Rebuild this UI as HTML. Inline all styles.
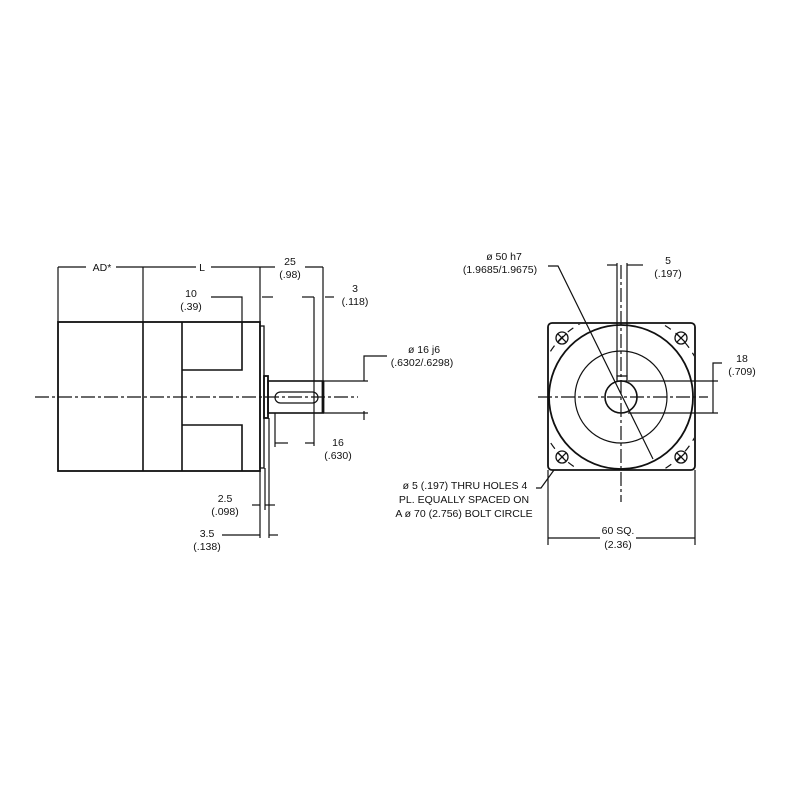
<!DOCTYPE html>
<html><head><meta charset="utf-8"><style>
html,body{margin:0;padding:0;background:#fff;}
svg{display:block;}
text{font-family:"Liberation Sans Narrow","Liberation Sans",sans-serif;font-size:10.5px;fill:#111;text-anchor:middle;}
</style></head><body>
<svg width="800" height="800" viewBox="0 0 800 800" xmlns="http://www.w3.org/2000/svg">
<defs><clipPath id="sq"><rect x="549" y="324" width="145" height="145" rx="4"/></clipPath></defs>
<g stroke="#111" fill="none" stroke-width="1.2">
<rect x="58" y="322" width="202" height="149" stroke-width="1.8"/>
<line x1="143" y1="322" x2="143" y2="471" stroke-width="1.6"/>
<line x1="182" y1="322" x2="182" y2="471" stroke-width="1.6"/>
<polyline points="182,370 242,370 242,322" stroke-width="1.6"/>
<polyline points="182,425 242,425 242,471" stroke-width="1.6"/>
<rect x="260" y="326" width="4" height="142" stroke-width="1.3"/>
<rect x="264" y="376" width="4" height="42" stroke-width="1.8"/>
<rect x="268" y="381" width="55" height="32" stroke-width="1.6"/>
<line x1="323" y1="381" x2="323" y2="413" stroke-width="2.8"/>
<rect x="275" y="392" width="43" height="11" rx="5.5"/>
<line x1="35" y1="397" x2="358" y2="397" stroke-dasharray="14,3,3,3"/>
<line x1="58" y1="267" x2="58" y2="322"/>
<line x1="143" y1="267" x2="143" y2="322"/>
<line x1="260" y1="267" x2="260" y2="322"/>
<line x1="323" y1="267" x2="323" y2="381"/>
<line x1="58" y1="267" x2="86" y2="267"/>
<line x1="116" y1="267" x2="196" y2="267"/>
<line x1="211" y1="267" x2="275" y2="267"/>
<line x1="305" y1="267" x2="323" y2="267"/>
<polyline points="211,297 242,297 242,322"/>
<line x1="262" y1="297" x2="273" y2="297"/>
<line x1="302" y1="297" x2="314" y2="297"/>
<line x1="325" y1="297" x2="334" y2="297"/>
<line x1="314" y1="297" x2="314" y2="446"/>
<line x1="323" y1="381" x2="368" y2="381"/>
<line x1="323" y1="413" x2="368" y2="413"/>
<polyline points="364,381 364,356 387,356"/>
<line x1="364" y1="411" x2="364" y2="420"/>
<line x1="275" y1="413" x2="275" y2="447"/>
<line x1="275" y1="443" x2="288" y2="443"/>
<line x1="305" y1="443" x2="314" y2="443"/>
<line x1="260" y1="471" x2="260" y2="538"/>
<line x1="265" y1="468" x2="265" y2="510"/>
<line x1="269" y1="418" x2="269" y2="538"/>
<line x1="252" y1="505" x2="260" y2="505"/>
<line x1="265" y1="505" x2="275" y2="505"/>
<line x1="222" y1="535" x2="260" y2="535"/>
<line x1="269" y1="535" x2="278" y2="535"/>
<rect x="548" y="323" width="147" height="147" rx="4" stroke-width="1.8"/>
<circle cx="621" cy="397" r="72" stroke-width="1.8"/>
<circle cx="621" cy="397" r="46"/>
<circle cx="621" cy="397" r="16" stroke-width="1.6"/>
<rect x="617" y="376" width="10" height="5" stroke-width="1.3"/>
<circle cx="621" cy="397" r="84" stroke-dasharray="7,6" clip-path="url(#sq)"/>
<g stroke-width="1.3">
<circle cx="562" cy="338" r="6"/><path d="M557.8,333.8l8.4,8.4M566.2,333.8l-8.4,8.4"/>
<circle cx="681" cy="338" r="6"/><path d="M676.8,333.8l8.4,8.4M685.2,333.8l-8.4,8.4"/>
<circle cx="562" cy="457" r="6"/><path d="M557.8,452.8l8.4,8.4M566.2,452.8l-8.4,8.4"/>
<circle cx="681" cy="457" r="6"/><path d="M676.8,452.8l8.4,8.4M685.2,452.8l-8.4,8.4"/>
</g>
<line x1="621" y1="265" x2="621" y2="502" stroke-dasharray="14,3,3,3"/>
<line x1="538" y1="397" x2="708" y2="397" stroke-dasharray="14,3,3,3"/>
<polyline points="548,266 558,266 653,459"/>
<line x1="617" y1="263" x2="617" y2="376"/>
<line x1="627" y1="263" x2="627" y2="376"/>
<line x1="607" y1="265" x2="617" y2="265"/>
<line x1="627" y1="265" x2="643" y2="265"/>
<line x1="628" y1="381" x2="718" y2="381"/>
<line x1="628" y1="413" x2="718" y2="413"/>
<polyline points="713,413 713,363 722,363"/>
<polyline points="536,488 541,488 554,470"/>
<line x1="548" y1="470" x2="548" y2="545"/>
<line x1="695" y1="470" x2="695" y2="545"/>
<line x1="548" y1="538" x2="600" y2="538"/>
<line x1="636" y1="538" x2="695" y2="538"/>
</g>
<text x="102" y="271">AD*</text>
<text x="202" y="271">L</text>
<text x="290" y="265">25</text>
<text x="290" y="278">(.98)</text>
<text x="191" y="297">10</text>
<text x="191" y="310">(.39)</text>
<text x="355" y="292">3</text>
<text x="355" y="305">(.118)</text>
<text x="424" y="353">ø 16  j6</text>
<text x="422" y="366">(.6302/.6298)</text>
<text x="338" y="446">16</text>
<text x="338" y="459">(.630)</text>
<text x="225" y="502">2.5</text>
<text x="225" y="515">(.098)</text>
<text x="207" y="537">3.5</text>
<text x="207" y="550">(.138)</text>
<text x="504" y="260">ø 50 h7</text>
<text x="500" y="273">(1.9685/1.9675)</text>
<text x="668" y="264">5</text>
<text x="668" y="277">(.197)</text>
<text x="742" y="362">18</text>
<text x="742" y="375">(.709)</text>
<text x="465" y="489">ø 5 (.197) THRU HOLES 4</text>
<text x="464" y="503">PL. EQUALLY SPACED ON</text>
<text x="464" y="517">A ø 70 (2.756) BOLT CIRCLE</text>
<text x="618" y="534">60 SQ.</text>
<text x="618" y="548">(2.36)</text>
</svg>
</body></html>
